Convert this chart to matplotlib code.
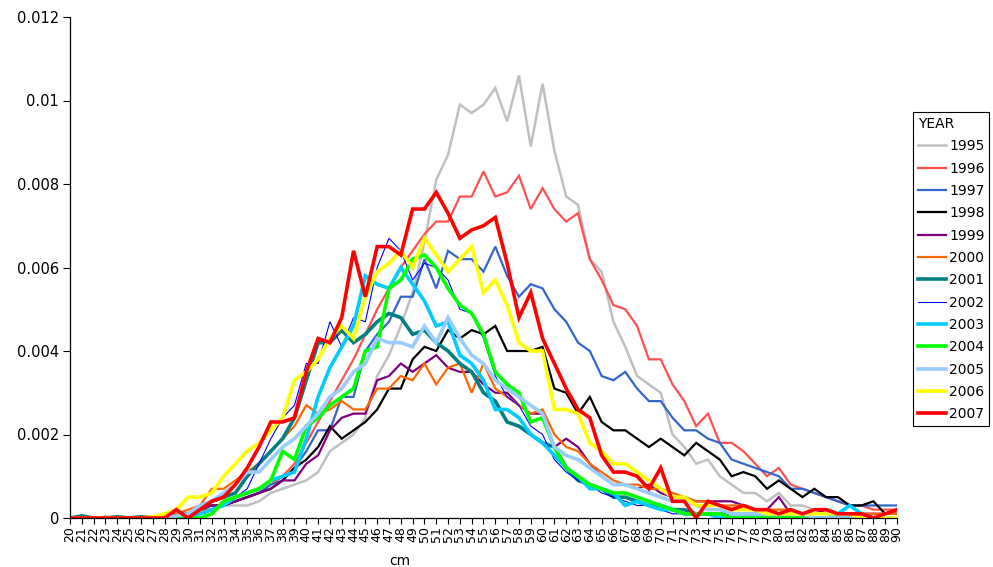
import matplotlib
matplotlib.use("Agg")
import matplotlib.pyplot as plt
from matplotlib.lines import Line2D

# length classes, cm
cm = list(range(20, 91))

years = ["1995", "1996", "1997", "1998", "1999", "2000", "2001",
         "2002", "2003", "2004", "2005", "2006", "2007"]

y1995 = [0, 0, 0, 0, 0, 0, 0, 0, 0.00002, 0.00005,
         0.0001, 0.0001, 0.0002, 0.0003, 0.0003, 0.0003, 0.0004, 0.0006, 0.0007, 0.0008,
         0.0009, 0.0011, 0.0016, 0.0018, 0.0020, 0.0024, 0.0034, 0.0039, 0.0046, 0.0054,
         0.0066, 0.0081, 0.0087, 0.0099, 0.0097, 0.0099, 0.0103, 0.0095, 0.0106, 0.0089,
         0.0104, 0.0088, 0.0077, 0.0075, 0.0062, 0.0059, 0.0047, 0.0041, 0.0034, 0.0032,
         0.0030, 0.0020, 0.0017, 0.0013, 0.0014, 0.0010, 0.0008, 0.0006, 0.0006, 0.0004,
         0.0006, 0.0003, 0.0003, 0.0002, 0.0002, 0.0001, 0.0001, 0.0001, 0.0001, 0.0001, 0.0001]

y1996 = [0, 0, 0, 0, 0, 0, 0.00002, 0.00003, 0.00005, 0.0001,
         0.0001, 0.0002, 0.0002, 0.0003, 0.0004, 0.0005, 0.0006, 0.0008, 0.0010, 0.0013,
         0.0018, 0.0023, 0.0028, 0.0033, 0.0038, 0.0044, 0.0050, 0.0055, 0.0060, 0.0064,
         0.0068, 0.0071, 0.0071, 0.0077, 0.0077, 0.0083, 0.0077, 0.0078, 0.0082, 0.0074,
         0.0079, 0.0074, 0.0071, 0.0073, 0.0062, 0.0057, 0.0051, 0.0050, 0.0046, 0.0038,
         0.0038, 0.0032, 0.0028, 0.0022, 0.0025, 0.0018, 0.0018, 0.0016, 0.0013, 0.0010,
         0.0012, 0.0008, 0.0007, 0.0006, 0.0005, 0.0004, 0.0003, 0.0003, 0.0002, 0.0002, 0.0002]

y1997 = [0, 0, 0, 0, 0, 0, 0.00002, 0.00003, 0.00005, 0.0001,
         0.0001, 0.0001, 0.0002, 0.0003, 0.0004, 0.0005, 0.0006, 0.0008, 0.0009, 0.0012,
         0.0016, 0.0021, 0.0021, 0.0029, 0.0029, 0.0040, 0.0044, 0.0047, 0.0053, 0.0053,
         0.0062, 0.0055, 0.0064, 0.0062, 0.0062, 0.0059, 0.0065, 0.0058, 0.0053, 0.0056,
         0.0055, 0.0050, 0.0047, 0.0042, 0.0040, 0.0034, 0.0033, 0.0035, 0.0031, 0.0028,
         0.0028, 0.0024, 0.0021, 0.0021, 0.0019, 0.0018, 0.0014, 0.0013, 0.0012, 0.0011,
         0.0010, 0.0007, 0.0007, 0.0006, 0.0005, 0.0004, 0.0003, 0.0003, 0.0003, 0.0003, 0.0003]

y1998 = [0, 0, 0, 0, 0, 0, 0, 0.00002, 0.00005, 0.00008,
         0.0001, 0.0002, 0.0003, 0.0003, 0.0004, 0.0005, 0.0006, 0.0007, 0.0009, 0.0012,
         0.0014, 0.0017, 0.0022, 0.0019, 0.0021, 0.0023, 0.0026, 0.0031, 0.0031, 0.0038,
         0.0041, 0.0040, 0.0045, 0.0043, 0.0045, 0.0044, 0.0046, 0.0040, 0.0040, 0.0040,
         0.0041, 0.0031, 0.0030, 0.0025, 0.0029, 0.0023, 0.0021, 0.0021, 0.0019, 0.0017,
         0.0019, 0.0017, 0.0015, 0.0018, 0.0016, 0.0014, 0.0010, 0.0011, 0.0010, 0.0007,
         0.0009, 0.0007, 0.0005, 0.0007, 0.0005, 0.0005, 0.0003, 0.0003, 0.0004, 0.0001, 0.0001]

y1999 = [0, 0, 0, 0.00003, 0, 0, 0.00002, 0.00004, 0.00005, 0.00008,
         0.0001, 0.0002, 0.0003, 0.0003, 0.0004, 0.0005, 0.0006, 0.0007, 0.0009, 0.0009,
         0.0013, 0.0015, 0.0021, 0.0024, 0.0025, 0.0025, 0.0033, 0.0034, 0.0037, 0.0035,
         0.0037, 0.0039, 0.0036, 0.0035, 0.0035, 0.0032, 0.0030, 0.0030, 0.0027, 0.0025,
         0.0025, 0.0017, 0.0019, 0.0017, 0.0013, 0.0010, 0.0008, 0.0008, 0.0007, 0.0008,
         0.0006, 0.0005, 0.0005, 0.0004, 0.0004, 0.0004, 0.0004, 0.0003, 0.0002, 0.0002,
         0.0005, 0.0001, 0.0001, 0.0001, 0.0002, 0.0001, 0.0001, 0.0001, 0.0001, 0.0001, 0.0001]

y2000 = [0, 0, 0, 0, 0, 0, 0.00002, 0.00004, 0.00006, 0.0001,
         0.0002, 0.0003, 0.0007, 0.0007, 0.0009, 0.0011, 0.0013, 0.0016, 0.0019, 0.0022,
         0.0027, 0.0025, 0.0026, 0.0028, 0.0026, 0.0026, 0.0031, 0.0031, 0.0034, 0.0033,
         0.0037, 0.0032, 0.0036, 0.0037, 0.0030, 0.0037, 0.0031, 0.0029, 0.0027, 0.0025,
         0.0026, 0.0020, 0.0017, 0.0016, 0.0013, 0.0011, 0.0009, 0.0008, 0.0008, 0.0007,
         0.0007, 0.0006, 0.0005, 0.0004, 0.0004, 0.0003, 0.0003, 0.0003, 0.0002, 0.0002,
         0.0002, 0.0002, 0.0001, 0.0001, 0.0001, 0.0001, 0.0001, 0.0001, 0.0001, 0.0001, 0.0001]

y2001 = [0, 0.00005, 0, 0, 0.00003, 0, 0.00003, 0, 0.00003, 0.00005,
         0.0001, 0.0002, 0.0004, 0.0005, 0.0006, 0.0010, 0.0013, 0.0016, 0.0019, 0.0024,
         0.0033, 0.0042, 0.0042, 0.0045, 0.0042, 0.0044, 0.0047, 0.0049, 0.0048, 0.0044,
         0.0045, 0.0042, 0.0040, 0.0037, 0.0035, 0.0030, 0.0028, 0.0023, 0.0022, 0.0020,
         0.0018, 0.0017, 0.0012, 0.0009, 0.0008, 0.0007, 0.0005, 0.0005, 0.0004, 0.0003,
         0.0003, 0.0002, 0.0002, 0.0001, 0.0001, 0.0001, 0.0001, 0.0001, 0.0001, 0.0001,
         0.0001, 0, 0, 0, 0, 0, 0, 0, 0, 0, 0]

y2002 = [0, 0, 0, 0, 0, 0, 0, 0, 0.00003, 0.00005,
         0.0001, 0.0001, 0.0002, 0.0003, 0.0005, 0.0007, 0.0013, 0.0019, 0.0024, 0.0027,
         0.0037, 0.0037, 0.0047, 0.0041, 0.0048, 0.0047, 0.0060, 0.0067, 0.0064, 0.0057,
         0.0061, 0.0060, 0.0057, 0.0050, 0.0049, 0.0043, 0.0034, 0.0029, 0.0027, 0.0022,
         0.0020, 0.0014, 0.0011, 0.0009, 0.0008, 0.0006, 0.0005, 0.0004, 0.0003, 0.0003,
         0.0002, 0.0001, 0.0001, 0.0001, 0.0001, 0, 0, 0, 0, 0,
         0, 0, 0, 0, 0, 0, 0, 0, 0, 0, 0]

y2003 = [0, 0, 0, 0, 0, 0, 0, 0, 0, 0,
         0, 0.0001, 0.0002, 0.0003, 0.0005, 0.0006, 0.0007, 0.0009, 0.0010, 0.0011,
         0.0019, 0.0029, 0.0036, 0.0041, 0.0046, 0.0058, 0.0056, 0.0055, 0.0060, 0.0056,
         0.0052, 0.0046, 0.0047, 0.0039, 0.0037, 0.0033, 0.0026, 0.0026, 0.0024, 0.0020,
         0.0018, 0.0015, 0.0012, 0.0010, 0.0007, 0.0007, 0.0006, 0.0003, 0.0004, 0.0003,
         0.0002, 0.0002, 0.0001, 0.0001, 0.0001, 0, 0, 0, 0, 0,
         0, 0, 0, 0, 0, 0.0001, 0.0003, 0.0001, 0, 0, 0]

y2004 = [0, 0, 0, 0, 0, 0, 0, 0, 0, 0,
         0, 0, 0.0001, 0.0004, 0.0005, 0.0006, 0.0007, 0.0009, 0.0016, 0.0014,
         0.0022, 0.0024, 0.0027, 0.0029, 0.0031, 0.0040, 0.0041, 0.0055, 0.0057, 0.0062,
         0.0063, 0.0060, 0.0055, 0.0051, 0.0049, 0.0044, 0.0035, 0.0032, 0.0030, 0.0023,
         0.0024, 0.0017, 0.0012, 0.0010, 0.0008, 0.0007, 0.0006, 0.0006, 0.0005, 0.0004,
         0.0003, 0.0002, 0.0001, 0.0001, 0.0001, 0.0001, 0, 0, 0, 0,
         0, 0, 0, 0, 0, 0, 0, 0, 0, 0, 0]

y2005 = [0, 0, 0, 0, 0, 0, 0, 0, 0, 0.00005,
         0.0001, 0.0003, 0.0004, 0.0006, 0.0008, 0.0011, 0.0011, 0.0014, 0.0017, 0.0019,
         0.0022, 0.0025, 0.0029, 0.0031, 0.0035, 0.0037, 0.0043, 0.0042, 0.0042, 0.0041,
         0.0046, 0.0042, 0.0048, 0.0043, 0.0039, 0.0037, 0.0033, 0.0031, 0.0029, 0.0027,
         0.0025, 0.0017, 0.0015, 0.0014, 0.0012, 0.0010, 0.0008, 0.0008, 0.0007, 0.0006,
         0.0005, 0.0004, 0.0004, 0.0003, 0.0002, 0.0002, 0.0001, 0.0001, 0.0001, 0.0001,
         0.0001, 0.0001, 0.0001, 0, 0, 0, 0, 0, 0, 0, 0]

y2006 = [0, 0, 0, 0, 0, 0, 0, 0.00003, 0.0001, 0.0002,
         0.0005, 0.0005, 0.0006, 0.0010, 0.0013, 0.0016, 0.0018, 0.0021, 0.0024, 0.0033,
         0.0035, 0.0038, 0.0043, 0.0046, 0.0043, 0.0053, 0.0059, 0.0061, 0.0064, 0.0060,
         0.0067, 0.0063, 0.0059, 0.0062, 0.0065, 0.0054, 0.0057, 0.0051, 0.0042, 0.0040,
         0.0040, 0.0026, 0.0026, 0.0025, 0.0018, 0.0016, 0.0013, 0.0013, 0.0011, 0.0009,
         0.0007, 0.0005, 0.0005, 0.0003, 0.0003, 0.0003, 0.0002, 0.0002, 0.0002, 0.0001,
         0.0001, 0.0001, 0.0001, 0.0001, 0.0001, 0.0001, 0.0001, 0, 0, 0, 0]

y2007 = [0, 0, 0, 0, 0, 0, 0, 0, 0, 0.0002,
         0, 0.0002, 0.0004, 0.0005, 0.0008, 0.0012, 0.0017, 0.0023, 0.0023, 0.0024,
         0.0035, 0.0043, 0.0042, 0.0048, 0.0064, 0.0053, 0.0065, 0.0065, 0.0063, 0.0074,
         0.0074, 0.0078, 0.0073, 0.0067, 0.0069, 0.0070, 0.0072, 0.0061, 0.0048, 0.0054,
         0.0043, 0.0037, 0.0031, 0.0026, 0.0024, 0.0015, 0.0011, 0.0011, 0.0010, 0.0007,
         0.0012, 0.0004, 0.0004, 0, 0.0004, 0.0003, 0.0002, 0.0003, 0.0002, 0.0002,
         0.0001, 0.0002, 0.0001, 0.0002, 0.0002, 0.0001, 0.0001, 0.0001, 0, 0.0001, 0.0002]

series = [y1995, y1996, y1997, y1998, y1999, y2000, y2001,
          y2002, y2003, y2004, y2005, y2006, y2007]

colors = ["#C0C0C0", "#FF5050", "#3366CC", "#000000", "#800080", "#FF6600", "#008080",
          "#0000FF", "#00CCFF", "#00FF00", "#99CCFF", "#FFFF00", "#FF0000"]
widths = [1.8, 1.6, 1.6, 1.6, 1.6, 1.6, 2.6,
          0.8, 2.6, 2.6, 2.6, 2.6, 2.6]

yticks = [0, 0.002, 0.004, 0.006, 0.008, 0.010, 0.012]
ytick_labels = ["0", "0.002", "0.004", "0.006", "0.008", "0.01", "0.012"]

W, H = 993, 567
fig = plt.figure(figsize=(W / 100, H / 100), dpi=100)
ax = fig.add_axes([70 / W, 49 / H, 827 / W, 501 / H])

handles = []
for yr, vals, c, lw in zip(years, series, colors, widths):
    ln, = ax.plot(cm, vals, color=c, linewidth=lw, solid_joinstyle="miter", label=yr)
    handles.append(ln)

ax.set_xlim(20, 90)
ax.set_ylim(0, 0.012)
ax.set_xticks(cm)
ax.set_xticklabels([str(v) for v in cm], rotation=90, fontsize=9)
ax.set_yticks(yticks)
ax.set_yticklabels(ytick_labels, fontsize=10.5)
ax.tick_params(axis="x", direction="out", length=4, width=0.8, pad=2)
ax.tick_params(axis="y", direction="out", length=5, width=0.8, pad=3)
for s in ["top", "right"]:
    ax.spines[s].set_visible(False)
for s in ["left", "bottom"]:
    ax.spines[s].set_linewidth(0.9)
    ax.spines[s].set_color("black")

fig.text(400 / W, 1 - 561 / H, "cm", ha="center", va="center", fontsize=10)

leg = fig.legend(handles=handles, loc="upper left",
                 bbox_to_anchor=(913 / W, 1 - 112 / H), bbox_transform=fig.transFigure,
                 title="YEAR", alignment="left", fontsize=10, title_fontsize=10,
                 frameon=True, fancybox=False, edgecolor="black", framealpha=1,
                 handlelength=2.0, handletextpad=0.25, labelspacing=0.6,
                 borderpad=0.35, borderaxespad=0)
leg.get_frame().set_linewidth(0.8)

# separator under the legend title
fig.canvas.draw()
fb = leg.get_frame().get_window_extent()
tb = leg.get_title().get_window_extent()
ysep = (tb.y0 - 2) / H
fig.add_artist(Line2D([fb.x0 / W, fb.x1 / W], [ysep, ysep], color="black", linewidth=0.8))

fig.savefig("out.png", dpi=100)
